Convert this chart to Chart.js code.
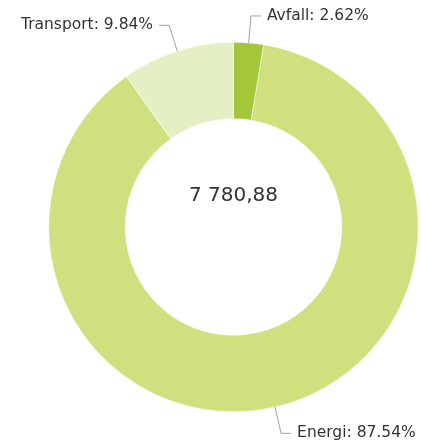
<!DOCTYPE html>
<html>
<head>
<meta charset="utf-8">
<title>Utslipp per sektor</title>
<script src="https://cdn.jsdelivr.net/npm/chart.js@4/dist/chart.umd.min.js"></script>
<style>
  html, body { margin: 0; padding: 0; background: #fff; }
  #chart { display: block; }
</style>
</head>
<body>
<canvas id="chart" width="421" height="448"></canvas>
<script>
const categories = ['Avfall', 'Energi', 'Transport'];
const values = [203.86, 6811.38, 765.64];
const colors = ['#a4c639', '#d0e07f', '#e4efc3'];

const total = values.reduce((a, b) => a + b, 0);

// 7780.88 -> "7 780,88"
function formatNumber(n) {
  const [int, dec] = n.toFixed(2).split('.');
  return int.replace(/\B(?=(\d{3})+(?!\d))/g, ' ') + ',' + dec;
}

const labelFont = '15.5px "DejaVu Sans", Verdana, sans-serif';

// slice labels with an elbow connector, drawn outside the ring
const sliceLabels = {
  id: 'sliceLabels',
  afterDatasetsDraw(chart) {
    const ctx = chart.ctx;
    const arcs = chart.getDatasetMeta(0).data;
    ctx.save();
    ctx.font = labelFont;
    ctx.textBaseline = 'middle';
    arcs.forEach((arc, i) => {
      const { x, y, startAngle, endAngle, outerRadius } = arc.getProps(['x', 'y', 'startAngle', 'endAngle', 'outerRadius'], true);
      const mid = (startAngle + endAngle) / 2;
      const cos = Math.cos(mid), sin = Math.sin(mid);
      const x0 = x + cos * outerRadius, y0 = y + sin * outerRadius;
      const x1 = x + cos * (outerRadius + 27), y1 = y + sin * (outerRadius + 27);
      const dir = cos >= 0 ? 1 : -1;
      const x2 = x1 + dir * 10;

      ctx.strokeStyle = '#a0a0a0';
      ctx.lineWidth = 1;
      ctx.beginPath();
      ctx.moveTo(x0, y0);
      ctx.lineTo(x1, y1);
      ctx.lineTo(x2, y1);
      ctx.stroke();

      const pct = (values[i] / total * 100).toFixed(2);
      ctx.fillStyle = '#333';
      ctx.textAlign = dir > 0 ? 'left' : 'right';
      ctx.fillText(categories[i] + ': ' + pct + '%', x2 + dir * 6, y1);
    });
    ctx.restore();
  }
};

const centerTotal = {
  id: 'centerTotal',
  afterDraw(chart) {
    const arc = chart.getDatasetMeta(0).data[0];
    if (!arc) return;
    const ctx = chart.ctx;
    ctx.save();
    ctx.font = '20px "DejaVu Sans", Verdana, sans-serif';
    ctx.fillStyle = '#333';
    ctx.textAlign = 'center';
    ctx.textBaseline = 'middle';
    ctx.fillText(formatNumber(total), arc.x, arc.y - 31);
    ctx.restore();
  }
};

new Chart(document.getElementById('chart'), {
  type: 'doughnut',
  data: {
    labels: categories,
    datasets: [{
      data: values,
      backgroundColor: colors,
      borderColor: '#ffffff',
      borderWidth: 0.5,
      hoverOffset: 0,
      offset: 0
    }]
  },
  options: {
    responsive: false,
    animation: false,
    cutout: '58.6%',
    layout: { padding: { left: 48.5, right: 2.5, top: 42, bottom: 36 } },
    plugins: {
      legend: { display: false },
      tooltip: { enabled: false }
    }
  },
  plugins: [sliceLabels, centerTotal]
});
</script>
</body>
</html>
